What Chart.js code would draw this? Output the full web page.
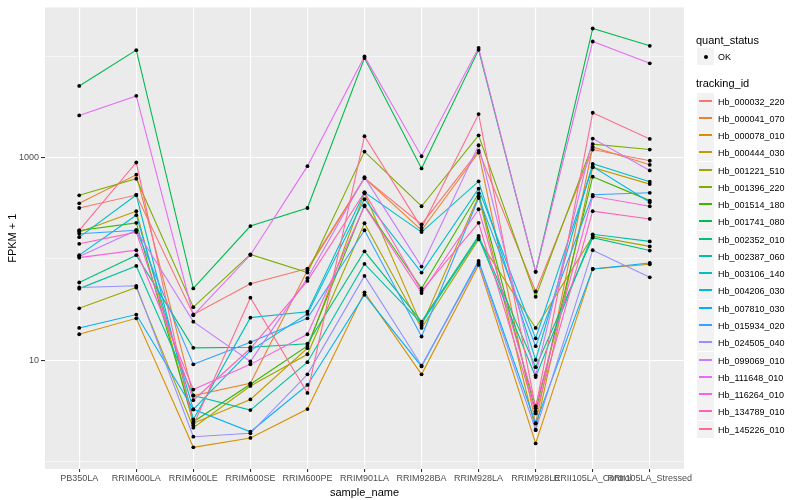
<!DOCTYPE html>
<html>
<head>
<meta charset="utf-8">
<script src="https://cdn.jsdelivr.net/npm/chart.js@4/dist/chart.umd.min.js"></script>
<style>
  body { margin: 0; background: #fff; font-family: "Liberation Sans", Arial, sans-serif; }
  #wrap { position: relative; width: 800px; height: 500px; }
  #legend { position: absolute; left: 0; top: 0; width: 800px; height: 500px; pointer-events: none; }
  .ltitle { position: absolute; left: 696px; font-size: 11px; color: #000; line-height: 11px; }
  .key { position: absolute; left: 697px; width: 17px; height: 17px; background: #F2F2F2; }
  .key .ln { position: absolute; left: 2px; right: 2px; top: 7px; height: 2px; }
  .key .dot { position: absolute; left: 6.5px; top: 6.5px; width: 4px; height: 4px; border-radius: 50%; background: #000; }
  .ltext { position: absolute; left: 718px; font-size: 9px; color: #000; line-height: 10px; }
</style>
</head>
<body>
<div id="wrap">
  <canvas id="chart" width="800" height="500"></canvas>
  <div id="legend"></div>
</div>
<script>
// x categories
const samples = ["PB350LA", "RRIM600LA", "RRIM600LE", "RRIM600SE", "RRIM600PE", "RRIM901LA",
  "RRIM928BA", "RRIM928LA", "RRIM928LE", "RRII105LA_Control", "RRII105LA_Stressed"];

// y ticks (log scale), only 10 and 1000 get labels
const yTicks = [1, 10, 100, 1000, 10000];
const yLabels = [10, 1000];

const trackingIds = ["Hb_000032_220", "Hb_000041_070", "Hb_000078_010", "Hb_000444_030", "Hb_001221_510",
  "Hb_001396_220", "Hb_001514_180", "Hb_001741_080", "Hb_002352_010", "Hb_002387_060",
  "Hb_003106_140", "Hb_004206_030", "Hb_007810_030", "Hb_015934_020", "Hb_024505_040",
  "Hb_099069_010", "Hb_111648_010", "Hb_116264_010", "Hb_134789_010", "Hb_145226_010"];

const colors = ["#F8766D", "#EA8331", "#D89000", "#C09B00", "#A3A500", "#7CAE00", "#39B600", "#00BB4E",
  "#00BF7D", "#00C1A3", "#00BFC4", "#00BAE0", "#00B0F6", "#35A2FF", "#9590FF", "#C77CFF",
  "#E76BF3", "#FA62DB", "#FF62BC", "#FF6C91"];

// FPKM + 1 per sample, one array per tracking_id
const hb_000032_220 = [318, 427, 28.4, 56.9, 80.3, 627, 219, 1164, 47.8, 1198, 929];
const hb_000041_070 = [354, 677, 4.51, 5.95, 77.5, 627, 192, 1120, 2.40, 1268, 848];
const hb_000078_010 = [18.1, 26.0, 1.39, 1.72, 3.31, 46.9, 7.29, 87.4, 1.52, 79.8, 88.7];
const hb_000444_030 = [184, 296, 2.40, 4.12, 13.2, 444, 22.0, 415, 2.06, 800, 547];
const hb_001221_510 = [32.6, 52.3, 2.17, 5.60, 11.5, 225, 20.9, 156, 20.9, 168, 133];
const hb_001396_220 = [424, 618, 33.5, 111, 73.4, 1145, 331, 1655, 42.4, 1356, 1198];
const hb_001514_180 = [191, 227, 2.48, 5.82, 13.9, 338, 51.2, 444, 3.16, 647, 376];
const hb_001741_080 = [5080, 11450, 51.2, 211, 318, 9550, 780, 11530, 74.6, 18700, 12620];
const hb_002352_010 = [58.6, 109, 13.3, 13.5, 14.6, 119, 24.1, 169, 8.58, 162, 121];
const hb_002387_060 = [51, 85.4, 4.5, 3.24, 9.6, 89.3, 23.2, 163, 6.86, 175, 149];
const hb_003106_140 = [164, 427, 2.62, 26.4, 30.2, 454, 184, 582, 10.1, 867, 578];
const hb_004206_030 = [109, 270, 3.29, 12.5, 28.7, 388, 73.4, 493, 16.5, 816, 362];
const hb_007810_030 = [20.9, 28.3, 3.29, 1.98, 5.73, 44.4, 8.73, 95.6, 2.39, 79.8, 91.4];
const hb_015934_020 = [177, 192, 9.14, 15.1, 26.0, 192, 17.2, 399, 13.8, 429, 449];
const hb_024505_040 = [52.3, 54.4, 1.77, 1.91, 7.29, 68.1, 8.9, 91.4, 2.06, 122, 65.9];
const hb_099069_010 = [106, 192, 24.1, 9.77, 64.7, 640, 84.1, 1321, 7.13, 1536, 746];
const hb_111648_010 = [2600, 4055, 27.8, 109.4, 822, 9930, 1030, 12060, 74.6, 13930, 8480];
const hb_116264_010 = [103, 122, 5.16, 9.14, 18.1, 331, 46.1, 309, 3.54, 415, 331];
const hb_134789_010 = [141, 184, 4.05, 13.1, 60.8, 454, 48.6, 227, 3.0, 296, 248];
const hb_145226_010 = [191, 893, 2.29, 41.5, 4.78, 1625, 203, 2682, 3.38, 2762, 1525];

const seriesValues = [hb_000032_220, hb_000041_070, hb_000078_010, hb_000444_030, hb_001221_510,
  hb_001396_220, hb_001514_180, hb_001741_080, hb_002352_010, hb_002387_060,
  hb_003106_140, hb_004206_030, hb_007810_030, hb_015934_020, hb_024505_040,
  hb_099069_010, hb_111648_010, hb_116264_010, hb_134789_010, hb_145226_010];

let datasets = seriesValues.map((vals, i) => ({
  label: trackingIds[i],
  data: vals.map((v, j) => ({ x: j, y: v })),
  borderColor: colors[i],
  borderWidth: 1.1,
  pointRadius: 0,
  fill: false,
  tension: 0,
  order: 100 - i
}));

// black points on top of all lines (quant_status = OK)
let allPoints = [];
seriesValues.forEach(vals => vals.forEach((v, j) => allPoints.push({ x: j, y: v })));
datasets.push({
  label: "OK",
  data: allPoints,
  showLine: false,
  pointRadius: 1.9,
  pointBackgroundColor: "#000",
  pointBorderWidth: 0,
  order: 0
});

const panelBg = {
  id: "panelBg",
  beforeDraw(chart) {
    let a = chart.chartArea;
    let ctx = chart.ctx;
    ctx.save();
    ctx.fillStyle = "#EBEBEB";
    ctx.fillRect(a.left, a.top, a.right - a.left, a.bottom - a.top);
    ctx.restore();
  }
};

let ctx = document.getElementById("chart").getContext("2d");
new Chart(ctx, {
  type: "line",
  data: { datasets: datasets },
  plugins: [panelBg],
  options: {
    responsive: false,
    animation: false,
    layout: { padding: { top: 5, right: 116, left: 0, bottom: 0 } },
    plugins: { legend: { display: false }, tooltip: { enabled: false } },
    scales: {
      x: {
        type: "linear",
        min: -0.6,
        max: 10.6,
        afterBuildTicks: s => { s.ticks = samples.map((_, i) => ({ value: i })); },
        afterFit: s => { s.height = 31; },
        border: { display: false },
        grid: { color: "#fff", lineWidth: 1.1, tickColor: "#333", tickLength: 3 },
        ticks: {
          autoSkip: false, maxRotation: 0, minRotation: 0, padding: 1,
          color: "#4D4D4D", font: { family: "Liberation Sans", size: 9 },
          callback: v => samples[v] !== undefined ? samples[v] : ""
        },
        title: { display: true, text: "sample_name", color: "#000", padding: 0,
          font: { family: "Liberation Sans", size: 11 } }
      },
      y: {
        type: "logarithmic",
        min: 0.85,
        max: 30200,
        afterBuildTicks: s => { s.ticks = yTicks.map(v => ({ value: v })); },
        afterFit: s => { s.width = 45; },
        border: { display: false },
        grid: {
          color: "#fff",
          lineWidth: c => (c.tick && yLabels.includes(c.tick.value)) ? 1.1 : 0.55,
          tickColor: c => (c.tick && yLabels.includes(c.tick.value)) ? "#333" : "rgba(0,0,0,0)",
          tickLength: 4
        },
        ticks: {
          padding: 2, color: "#4D4D4D", font: { family: "Liberation Sans", size: 9 },
          callback: v => yLabels.includes(v) ? String(v) : ""
        },
        title: { display: true, text: "FPKM + 1", color: "#000", padding: 6,
          font: { family: "Liberation Sans", size: 11 } }
      }
    }
  }
});

// legend on the right, like ggplot's guide boxes
let legend = document.getElementById("legend");
function add(html) { legend.insertAdjacentHTML("beforeend", html); }
add('<div class="ltitle" style="top:35px">quant_status</div>');
add('<div class="key" style="top:48px"><span class="dot"></span></div>');
add('<div class="ltext" style="top:52px">OK</div>');
add('<div class="ltitle" style="top:78px">tracking_id</div>');
trackingIds.forEach((id, i) => {
  let top = Math.round(92.5 + i * 17.27);
  add('<div class="key" style="top:' + top + 'px"><span class="ln" style="background:' + colors[i] + '"></span></div>');
  add('<div class="ltext" style="top:' + (top + 4) + 'px">' + id + '</div>');
});
</script>
</body>
</html>
